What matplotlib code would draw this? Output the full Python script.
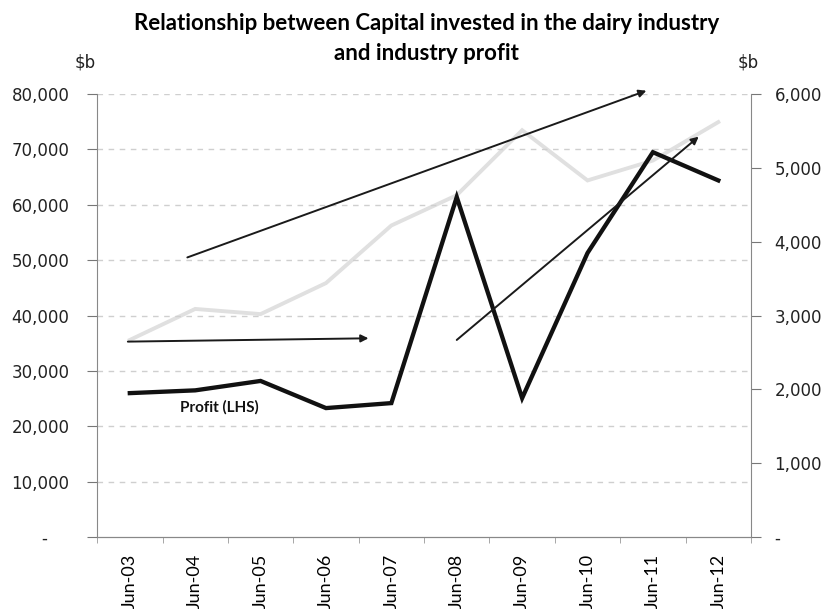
import matplotlib
matplotlib.use("Agg")
import matplotlib.pyplot as plt
from matplotlib.ticker import FuncFormatter, FixedLocator

# Financial years
years = ["Jun-03", "Jun-04", "Jun-05", "Jun-06", "Jun-07",
         "Jun-08", "Jun-09", "Jun-10", "Jun-11", "Jun-12"]

# Industry profit ($b, left axis)
profit = [26000, 26500, 28200, 23300, 24200, 61400, 25100, 51300, 69500, 64400]

# Capital invested ($b, right axis)
capital = [2670, 3090, 3020, 3440, 4220, 4630, 5510, 4830, 5100, 5620]

# Trend arrows drawn over the chart: (x0, y0, x1, y1) in left-axis units
trend_arrows = [
    (0.88, 50500, 7.9, 80600),
    (-0.03, 35300, 3.65, 35900),
    (5.0, 35600, 8.7, 72300),
]

left_ticks = [0, 10000, 20000, 30000, 40000, 50000, 60000, 70000, 80000]
right_ticks = [0, 1000, 2000, 3000, 4000, 5000, 6000]

fig = plt.figure(figsize=(8.23, 6.09), dpi=100)
ax = fig.add_axes([0.118, 0.118, 0.7945, 0.7276])
ax2 = ax.twinx()
ax.set_zorder(ax2.get_zorder() + 1)
ax.patch.set_visible(False)

x = list(range(len(years)))

def left_fmt(v, pos):
    return "-    " if v == 0 else f"{int(v):,}"

def right_fmt(v, pos):
    return "-" if v == 0 else f"{int(v):,}"

# gridlines
for t in left_ticks[1:]:
    ax.axhline(t, color="#cfcfcf", lw=1.0, ls=(0, (4, 4)), zorder=0)

ax2.plot(x, capital, color="#e0e0e0", lw=2.8, solid_joinstyle="miter")
ax.plot(x, profit, color="#111111", lw=3.1, solid_joinstyle="miter", zorder=3)

for x0, y0, x1, y1 in trend_arrows:
    ax.annotate("", xy=(x1, y1), xytext=(x0, y0), annotation_clip=False,
                arrowprops=dict(arrowstyle="-|>", color="#1a1a1a", lw=1.4,
                                mutation_scale=11, shrinkA=0, shrinkB=0),
                zorder=4)

ax.text(1.37, 23500, "Profit (LHS)", ha="center", va="center",
        fontsize=11, fontweight="bold", family="Lato", color="#111111")

ax.set_xlim(-0.5, len(years) - 0.5)
ax.set_ylim(0, 80000)
ax2.set_ylim(0, 6000)

ax.set_yticks(left_ticks)
ax.yaxis.set_major_formatter(FuncFormatter(left_fmt))
ax2.set_yticks(right_ticks)
ax2.yaxis.set_major_formatter(FuncFormatter(right_fmt))

ax.set_xticks(x)
ax.set_xticklabels(years, rotation=90, family="Lato", fontsize=13)
ax.xaxis.set_minor_locator(FixedLocator([i + 0.5 for i in range(-1, len(years))]))
ax.tick_params(axis="x", which="major", length=0, pad=12)
ax.tick_params(axis="x", which="minor", length=4, color="#999999", direction="out")

ax.tick_params(axis="y", labelsize=12, length=7, color="#777777", pad=13, labelcolor="#222222")
ax2.tick_params(axis="y", labelsize=12, length=7, color="#777777", pad=10, labelcolor="#222222")

for a in (ax, ax2):
    a.spines["top"].set_visible(False)
    a.spines["left"].set_color("#888888")
    a.spines["right"].set_color("#888888")
    a.spines["bottom"].set_color("#888888")
ax.spines["right"].set_visible(False)
ax2.spines["left"].set_visible(False)

fig.text(0.104, 0.897, "$b", fontsize=12, ha="center", va="center", color="#222222")
fig.text(0.909, 0.897, "$b", fontsize=12, ha="center", va="center", color="#222222")

fig.text(0.518, 0.962, "Relationship between Capital invested in the dairy industry",
         ha="center", va="center", fontsize=16, fontweight="bold", family="Lato")
fig.text(0.518, 0.912, "and industry profit",
         ha="center", va="center", fontsize=16, fontweight="bold", family="Lato")

fig.savefig("out.png", dpi=100)
